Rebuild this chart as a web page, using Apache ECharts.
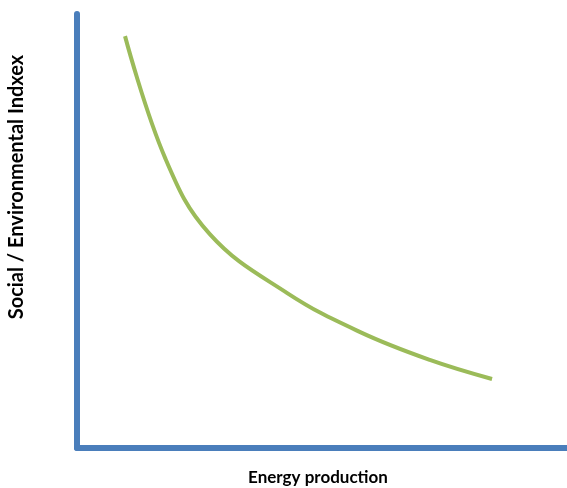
<!DOCTYPE html>
<html><head><meta charset="utf-8">
<script src="https://cdn.jsdelivr.net/npm/echarts@6/dist/echarts.min.js"></script>
<style>html,body{margin:0;padding:0;background:#fff}#c{width:567px;height:488px}</style>
</head><body><div id="c"></div>
<script>
var xValues = [9.8, 18.0, 27.1, 42.9, 57.8, 72.0, 84.7];
var yValues = [94.9, 66.8, 49.3, 35.7, 26.7, 20.3, 15.9];
var xTitle = 'Energy production';
var yTitle = 'Social / Environmental Indxex';

var chart = echarts.init(document.getElementById('c'), null, {renderer: 'canvas'});
var data = xValues.map(function (x, i) { return [x, yValues[i]]; });
var axisLine = {show: true, onZero: false, lineStyle: {color: '#4A7EBB', width: 6}};
chart.setOption({
  animation: false,
  grid: {left: 77, right: 0, top: 14, bottom: 40, containLabel: false},
  xAxis: {type: 'value', min: 0, max: 100, axisLine: axisLine, axisTick: {show: false}, axisLabel: {show: false}, splitLine: {show: false}},
  yAxis: {type: 'value', min: 0, max: 100, axisLine: axisLine, axisTick: {show: false}, axisLabel: {show: false}, splitLine: {show: false}},
  graphic: [
    {type: 'text', x: 318, y: 478, style: {text: xTitle, font: 'bold 17px Lato', fill: '#000', align: 'center', verticalAlign: 'middle'}},
    {type: 'text', x: 17, y: 187, rotation: Math.PI / 2, style: {text: yTitle, font: 'bold 20px Lato', fill: '#000', align: 'center', verticalAlign: 'middle'}}
  ],
  series: [{type: 'line', data: data, smooth: 0.4, showSymbol: false, lineStyle: {color: '#9BBB59', width: 4, cap: 'butt'}}]
});
</script></body></html>
